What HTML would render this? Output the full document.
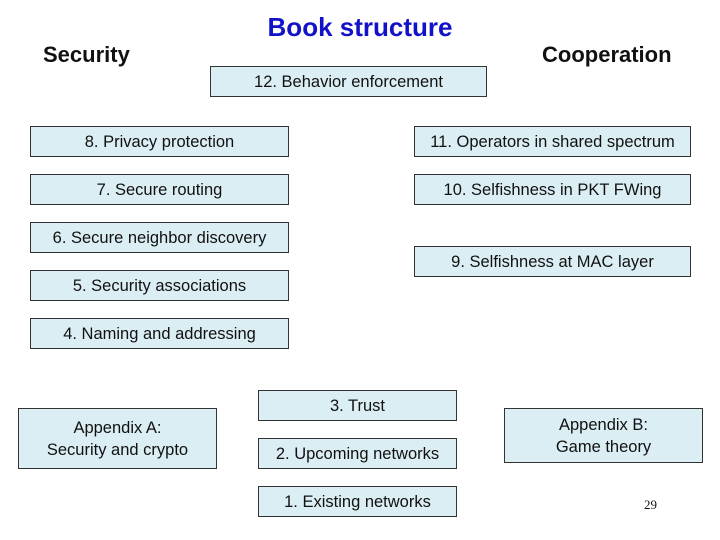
<!DOCTYPE html>
<html><head><meta charset="utf-8"><style>
html,body{margin:0;padding:0;background:#fff;}
body{width:720px;height:540px;position:relative;overflow:hidden;font-family:"Liberation Sans",Arial,sans-serif;}
.b{position:absolute;box-sizing:border-box;background:#dbeef3;border:1px solid #333;display:flex;align-items:center;justify-content:center;text-align:center;font-size:16.5px;color:#111;line-height:22px;}
.t{position:absolute;font-weight:bold;white-space:nowrap;}
</style></head><body>
<div class="t" style="left:0;width:720px;text-align:center;top:12px;font-size:26px;color:#1212c8;">Book structure</div>
<div class="t" style="left:43px;top:42px;font-size:22px;color:#111;">Security</div>
<div class="t" style="left:542px;top:42px;font-size:22px;color:#111;">Cooperation</div>

<div class="b" style="left:210px;top:66px;width:277px;height:31px;">12. Behavior enforcement</div>
<div class="b" style="left:30px;top:126px;width:259px;height:31px;">8. Privacy protection</div>
<div class="b" style="left:414px;top:126px;width:277px;height:31px;">11. Operators in shared spectrum</div>
<div class="b" style="left:30px;top:174px;width:259px;height:31px;">7. Secure routing</div>
<div class="b" style="left:414px;top:174px;width:277px;height:31px;">10. Selfishness in PKT FWing</div>
<div class="b" style="left:30px;top:222px;width:259px;height:31px;">6. Secure neighbor discovery</div>
<div class="b" style="left:414px;top:246px;width:277px;height:31px;">9. Selfishness at MAC layer</div>
<div class="b" style="left:30px;top:270px;width:259px;height:31px;">5. Security associations</div>
<div class="b" style="left:30px;top:318px;width:259px;height:31px;">4. Naming and addressing</div>
<div class="b" style="left:258px;top:390px;width:199px;height:31px;">3. Trust</div>
<div class="b" style="left:18px;top:408px;width:199px;height:61px;">Appendix A:<br>Security and crypto</div>
<div class="b" style="left:258px;top:438px;width:199px;height:31px;">2. Upcoming networks</div>
<div class="b" style="left:504px;top:408px;width:199px;height:55px;">Appendix B:<br>Game theory</div>
<div class="b" style="left:258px;top:486px;width:199px;height:31px;">1. Existing networks</div>
<div style="position:absolute;left:644px;top:497px;font-family:'Liberation Serif',serif;font-size:13px;color:#111;">29</div>
</body></html>
